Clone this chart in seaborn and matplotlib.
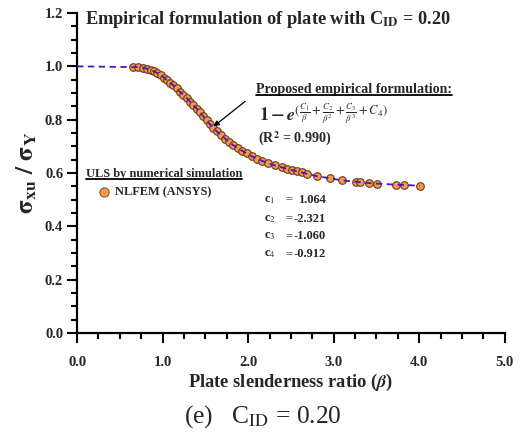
import numpy as np
import pandas as pd
import matplotlib
matplotlib.use("Agg")
import matplotlib.pyplot as plt
import seaborn as sns
from matplotlib.lines import Line2D

# ---- data ----
beta = [0.658, 0.717, 0.767, 0.814, 0.861, 0.900, 0.938, 0.977, 1.016, 1.047,
        1.086, 1.125, 1.164, 1.203, 1.242, 1.281, 1.320, 1.359, 1.398, 1.437,
        1.476, 1.515, 1.554, 1.593, 1.632, 1.678, 1.729, 1.780, 1.826, 1.877,
        1.928, 1.982, 2.040, 2.099, 2.157, 2.235, 2.313, 2.391, 2.449, 2.508,
        2.566, 2.625, 2.683, 2.800, 2.956, 3.100, 3.256, 3.306, 3.415, 3.501,
        3.734, 3.820, 4.007]
sigma = [0.997, 0.997, 0.995, 0.991, 0.986, 0.981, 0.975, 0.966, 0.958, 0.949,
         0.939, 0.929, 0.917, 0.904, 0.893, 0.881, 0.868, 0.854, 0.841, 0.827,
         0.812, 0.797, 0.782, 0.769, 0.756, 0.743, 0.729, 0.715, 0.704, 0.693,
         0.683, 0.673, 0.663, 0.654, 0.646, 0.636, 0.628, 0.621, 0.616, 0.611,
         0.606, 0.602, 0.597, 0.588, 0.580, 0.572, 0.567, 0.565, 0.562, 0.560,
         0.556, 0.555, 0.552]
line_beta = [0.0] + beta
line_sigma = [1.0] + sigma
coef_names = ["c$_1$", "c$_2$", "c$_3$", "c$_4$"]
coef_values = ["1.064", "-2.321", "-1.060", "-0.912"]
x_ticks = [0.0, 1.0, 2.0, 3.0, 4.0, 5.0]
y_ticks = [0.0, 0.2, 0.4, 0.6, 0.8, 1.0, 1.2]

sns.set_style("ticks")
plt.rcParams["font.family"] = ["Liberation Serif", "DejaVu Serif"]
plt.rcParams["mathtext.fontset"] = "stix"

df_pts = pd.DataFrame({"beta": beta, "sigma": sigma})
df_line = pd.DataFrame({"beta": line_beta, "sigma": line_sigma})

fig = plt.figure(figsize=(5.28, 4.34), dpi=100)
ax = fig.add_axes([0.146, 0.233, 0.810, 0.737])

MARKER_FC = "#F29B4C"
MARKER_EC = "#6B3A10"
LINE_C = "#4B12CC"

sns.scatterplot(data=df_pts, x="beta", y="sigma", ax=ax, s=30,
                color=MARKER_FC, edgecolor=MARKER_EC, linewidth=0.8,
                zorder=3, legend=False)
sns.lineplot(data=df_line, x="beta", y="sigma", ax=ax, color=LINE_C,
             linewidth=1.3, linestyle=(0, (3.5, 2.5)), zorder=4,
             estimator=None, sort=False)

ax.set_xlim(0, 5.0)
ax.set_ylim(0, 1.2)
ax.set_xticks(x_ticks)
ax.set_yticks(y_ticks)
ax.set_xticks(np.arange(0, 5.01, 0.25), minor=True)
ax.set_yticks(np.arange(0, 1.201, 0.05), minor=True)
ax.set_xticklabels([f"{v:.1f}" for v in x_ticks], fontweight="bold", fontsize=10.5)
ax.set_yticklabels([f"{v:.1f}" for v in y_ticks], fontweight="bold", fontsize=10.5)
ax.tick_params(axis="both", which="major", length=7, width=1.5, direction="out",
               color="black", pad=10)
ax.tick_params(axis="both", which="minor", length=4, width=1.5, direction="out",
               color="black")
ax.tick_params(axis="y", which="major", pad=3)
for s in ["top", "right"]:
    ax.spines[s].set_visible(False)
for s in ["left", "bottom"]:
    ax.spines[s].set_linewidth(1.6)
    ax.spines[s].set_color("black")

ax.set_xlabel(r"Plate slenderness ratio ($\boldsymbol{\beta}$)", fontweight="bold",
              fontsize=13.3, labelpad=2)
ax.set_ylabel(r"$\mathbf{\sigma_{xu}}$ $\mathbf{/}$ $\mathbf{\sigma_{Y}}$",
              fontsize=18, labelpad=4)

# title inside the plot
ax.text(0.09, 1.175, r"Empirical formulation of plate with C$_{\mathbf{ID}}$ = 0.20",
        fontweight="bold", fontsize=13.2, va="center", ha="left")

texts_to_underline = []
t1 = ax.text(2.09, 0.914, "Proposed empirical formulation:", fontweight="bold",
             fontsize=10.1, ha="left", va="center")
texts_to_underline.append(t1)
ax.text(2.13, 0.822,
        r"$\mathbf{1-}\boldsymbol{e}^{(\frac{C_1}{\beta}+\frac{C_2}{\beta^2}+\frac{C_3}{\beta^3}+C_4)}$",
        fontsize=13, ha="left", va="center")
ax.text(2.11, 0.728, r"(R$^{\mathbf{2}}$ = 0.990)", fontweight="bold", fontsize=10.2,
        ha="left", va="center")
ax.annotate("", xy=(1.57, 0.768), xytext=(1.99, 0.875),
            arrowprops=dict(arrowstyle="-|>", color="black", lw=0.9,
                            mutation_scale=8))

t2 = ax.text(0.105, 0.595, "ULS by numerical simulation", fontweight="bold",
             fontsize=8.9, ha="left", va="center")
texts_to_underline.append(t2)
ax.scatter([0.315], [0.528], s=45, color=MARKER_FC, edgecolor=MARKER_EC,
           linewidth=0.6, zorder=5)
ax.text(0.444, 0.528, "NLFEM (ANSYS)", fontweight="bold", fontsize=8.9,
        ha="left", va="center")

coef_y = [0.50, 0.429, 0.362, 0.295]
for name, val, yy in zip(coef_names, coef_values, coef_y):
    ax.text(2.19, yy, name, fontweight="bold", fontsize=9, ha="left", va="center")
    ax.text(2.44, yy, "=", fontweight="bold", fontsize=9, ha="left", va="center",
            color="#555555")
    ax.text(2.58 if not val.startswith("-") else 2.53, yy, val, fontweight="bold",
            fontsize=9, ha="left", va="center")

fig.text(0.497, 0.039, r"(e)   C$_{\mathrm{ID}}$ = 0.20", fontsize=18.4, ha="center",
         va="center")

fig.canvas.draw()
renderer = fig.canvas.get_renderer()
inv = fig.transFigure.inverted()
for t in texts_to_underline:
    bb = t.get_window_extent(renderer)
    (x0, y0), (x1, y1) = inv.transform([(bb.x0, bb.y0), (bb.x1, bb.y1)])
    fig.add_artist(Line2D([x0, x1], [y0 + 0.002, y0 + 0.002], color="black",
                          lw=1.3, transform=fig.transFigure))

fig.savefig("out.png", dpi=100)
